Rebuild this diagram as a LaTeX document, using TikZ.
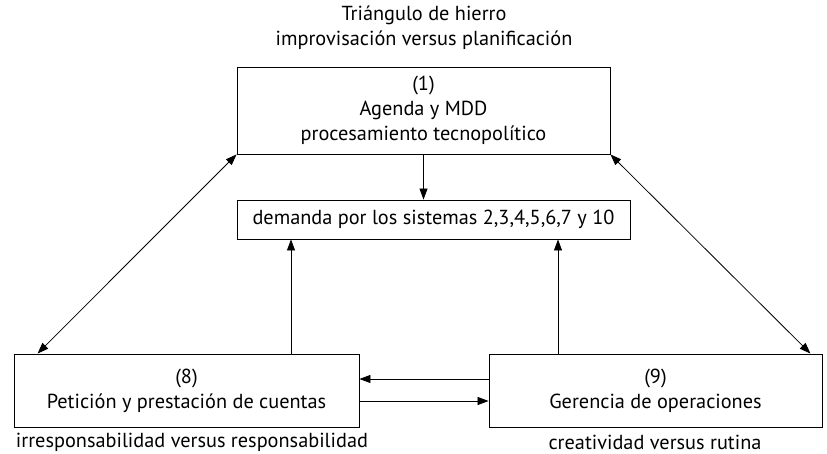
\documentclass[tikz,border=0pt]{standalone}
\usepackage{fontspec}
\setmainfont{PT Sans}
\usetikzlibrary{positioning,calc,arrows.meta}

\begin{document}
\begin{tikzpicture}[x=1pt,y=-1pt,font=\fontsize{20.3}{25}\selectfont,
    box/.style={draw,line width=0.9pt,align=center,inner sep=0pt},
    >={Triangle[length=11pt,width=8pt]},line width=0.8pt]
  \useasboundingbox (0,0) rectangle (827,454);
  \node[align=center] (titulo) at (424,28) {Triángulo de hierro\\improvisación versus planificación};
  \node[box,minimum width=373,minimum height=87] (agenda) at (423.5,110.5) {(1)\\Agenda y MDD\\procesamiento tecnopolítico};
  \node[box,minimum width=393,minimum height=39] (demanda) at (433.5,219.5) {demanda por los sistemas 2,3,4,5,6,7 y 10};
  \node[box,minimum width=345,minimum height=73] (peticion) at (186.5,390.5) {(8)\\Petición y prestación de cuentas};
  \node[box,minimum width=333,minimum height=73] (gerencia) at (655.5,390.5) {(9)\\Gerencia de operaciones};
  \node (irresp) at (192,442) {irresponsabilidad versus responsabilidad};
  \node (creat) at (655,442) {creatividad versus rutina};
  % flechas
  \draw[->] (agenda.south) -- (agenda.south |- demanda.north);
  \draw[->] ([xshift=104.5]peticion.north) -- ([xshift=104.5]peticion.north |- demanda.south);
  \draw[->] ([xshift=-97.5]gerencia.north) -- ([xshift=-97.5]gerencia.north |- demanda.south);
  \draw[<->] ([xshift=24]peticion.north west) -- (agenda.south west);
  \draw[<->] (agenda.south east) -- ([xshift=-12]gerencia.north east);
  \draw[->] ([yshift=11.5]gerencia.west) -- ([yshift=11.5]gerencia.west -| peticion.east);
  \draw[->] ([yshift=-10.5]peticion.east) -- ([yshift=-10.5]peticion.east -| gerencia.west);
\end{tikzpicture}
\end{document}
